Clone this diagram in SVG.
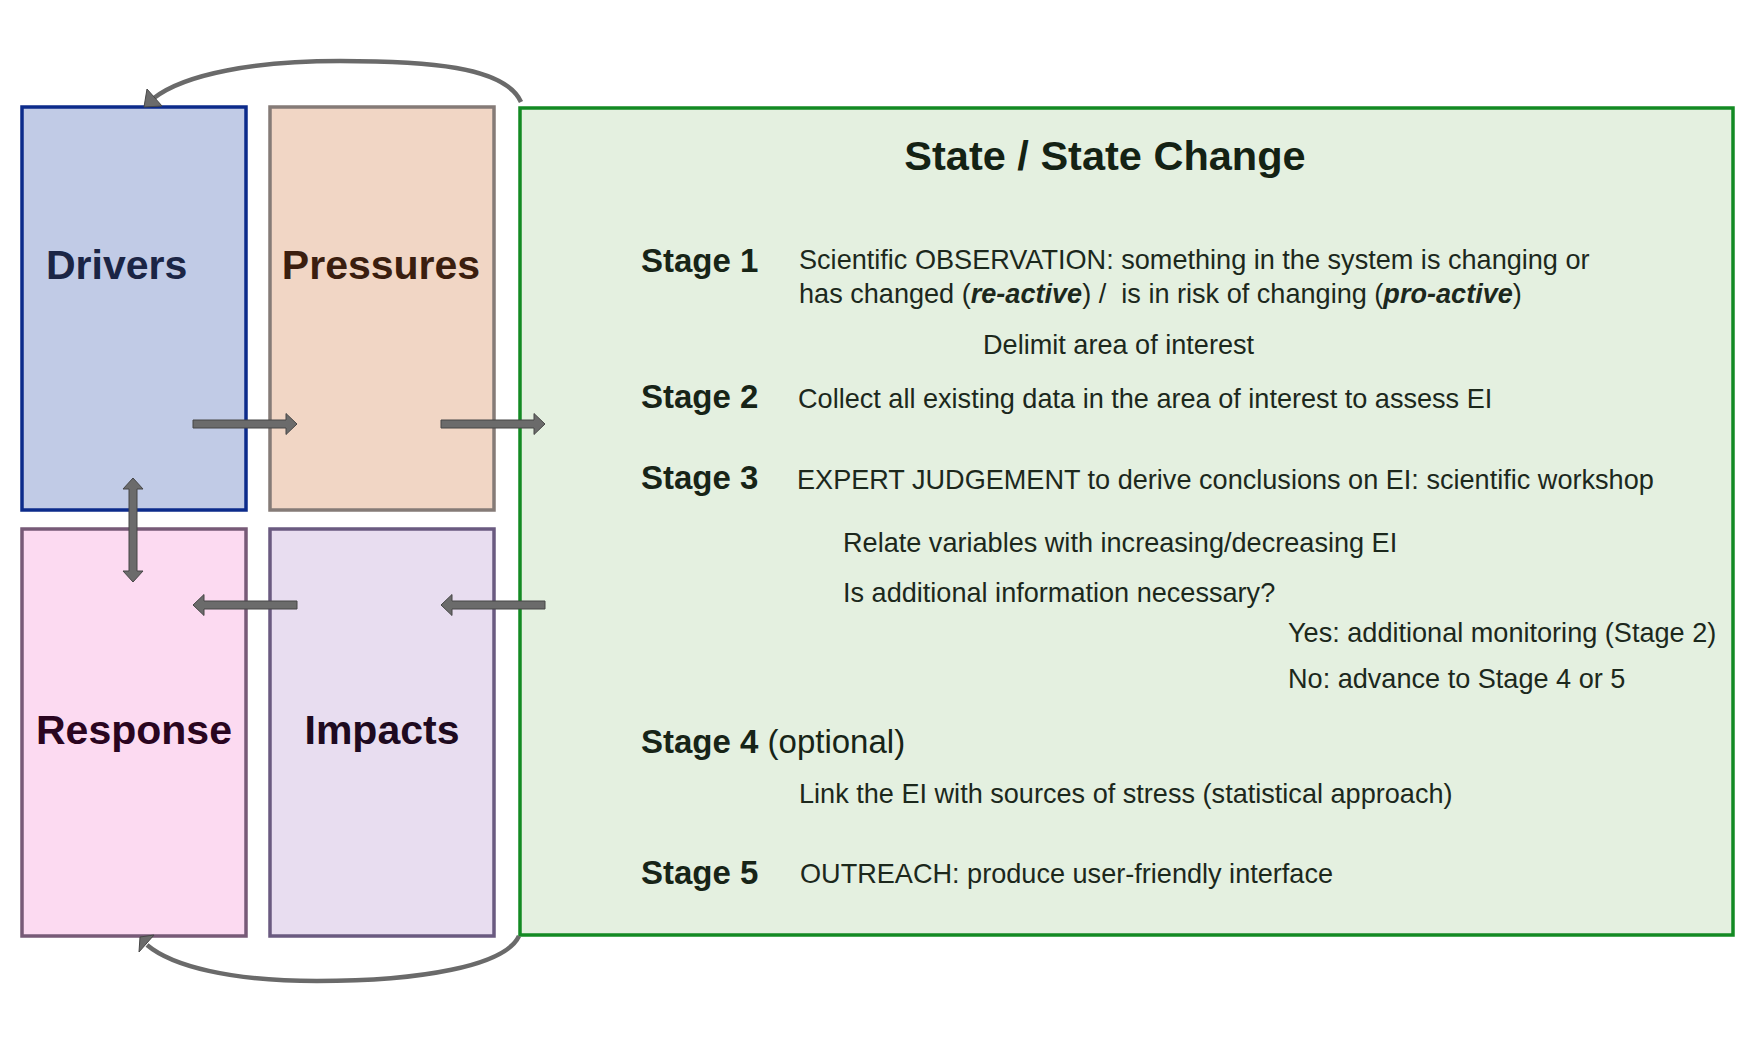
<svg xmlns="http://www.w3.org/2000/svg" xmlns:xlink="http://www.w3.org/1999/xlink" width="1755" height="1042" viewBox="0 0 1755 1042">
<style>
text{font-family:"Liberation Sans",Arial,sans-serif}
.lbl{font-size:41px;font-weight:bold}
.stage{font-size:33px;font-weight:bold;fill:#172417}
.body{font-size:27.1px;fill:#1c281c}
.bi{font-weight:bold;font-style:italic}
.arr{fill:#6b6b6b;stroke:#474747;stroke-width:1}
.curve{fill:none;stroke:#6a6a6a;stroke-width:4.5}
</style>
<defs>
<path id="rarrow" d="M0,-4 H93 V-10.5 L104,0 L93,10.5 V4 H0 Z"/>
</defs>
<rect width="1755" height="1042" fill="#ffffff"/>

<g id="drivers">
<rect x="22" y="107" width="224" height="403" fill="#c1cbe6" stroke="#0c2b8b" stroke-width="3.5"/>
<text class="lbl" x="46" y="279" fill="#1b2545">Drivers</text>
</g>
<g id="pressures">
<rect x="270" y="107" width="224" height="403" fill="#f1d6c5" stroke="#857b77" stroke-width="3.5"/>
<text class="lbl" x="381" y="279" text-anchor="middle" fill="#3b1e0f">Pressures</text>
</g>
<g id="response">
<rect x="22" y="529" width="224" height="407" fill="#fcdaf1" stroke="#775a77" stroke-width="3.5"/>
<text class="lbl" x="134" y="744" text-anchor="middle" fill="#2a0520">Response</text>
</g>
<g id="impacts">
<rect x="270" y="529" width="224" height="407" fill="#e8ddf0" stroke="#6a5a80" stroke-width="3.5"/>
<text class="lbl" x="382" y="744" text-anchor="middle" fill="#1e0a20">Impacts</text>
</g>
<g id="state">
<rect x="520" y="108" width="1213" height="827" fill="#e4f0e0" stroke="#138a23" stroke-width="3.5"/>
<text x="1105" y="170" text-anchor="middle" font-size="41.5" font-weight="bold" fill="#142214">State / State Change</text>
<text class="stage" x="641" y="272">Stage 1</text>
<text class="body" x="799" y="269">Scientific OBSERVATION: something in the system is changing or</text>
<text class="body" x="799" y="303" style="white-space:pre">has changed (<tspan class="bi">re-active</tspan>) /  is in risk of changing (<tspan class="bi">pro-active</tspan>)</text>
<text class="body" x="983" y="354">Delimit area of interest</text>
<text class="stage" x="641" y="408">Stage 2</text>
<text class="body" x="798" y="408">Collect all existing data in the area of interest to assess EI</text>
<text class="stage" x="641" y="489">Stage 3</text>
<text class="body" x="797" y="489">EXPERT JUDGEMENT to derive conclusions on EI: scientific workshop</text>
<text class="body" x="843" y="552">Relate variables with increasing/decreasing EI</text>
<text class="body" x="843" y="602">Is additional information necessary?</text>
<text class="body" x="1288" y="642">Yes: additional monitoring (Stage 2)</text>
<text class="body" x="1288" y="688">No: advance to Stage 4 or 5</text>
<text class="stage" x="641" y="753">Stage 4 <tspan font-weight="normal">(optional)</tspan></text>
<text class="body" x="799" y="803">Link the EI with sources of stress (statistical approach)</text>
<text class="stage" x="641" y="884">Stage 5</text>
<text class="body" x="800" y="883">OUTREACH: produce user-friendly interface</text>
</g>

<g id="connectors">
<use xlink:href="#rarrow" href="#rarrow" class="arr" transform="translate(193,424)"/>
<use xlink:href="#rarrow" href="#rarrow" class="arr" transform="translate(441,424)"/>
<use xlink:href="#rarrow" href="#rarrow" class="arr" transform="translate(297,605) rotate(180)"/>
<use xlink:href="#rarrow" href="#rarrow" class="arr" transform="translate(545,605) rotate(180)"/>
<path class="arr" d="M129,489 H123 L133,478 L143,489 H137 V571 H143 L133,582 L123,571 H129 Z"/>
<path class="curve" d="M521,102 C505,66 425,61 340,61 C255,61 185,74 154,98"/>
<polygon class="arr" points="144,107 147,89 162,106"/>
<path class="curve" d="M519,936 C505,966 420,981 317,981 C230,981 172,966 147,945"/>
<polygon class="arr" points="140,937 154,935 139,952"/>
</g>
</svg>
